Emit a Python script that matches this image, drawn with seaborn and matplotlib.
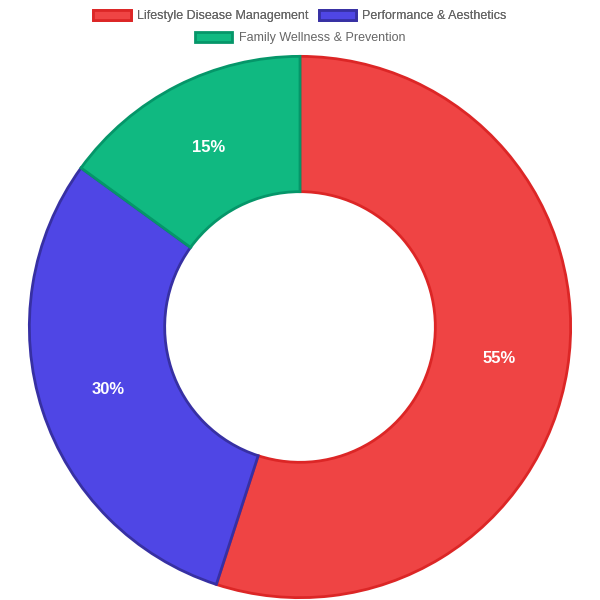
import matplotlib
matplotlib.use("Agg")
import matplotlib.pyplot as plt
from matplotlib.patches import Patch
import numpy as np
import seaborn as sns

categories = ["Lifestyle Disease Management", "Performance & Aesthetics", "Family Wellness & Prevention"]
values = [55, 30, 15]
fill_colors = ["#EF4444", "#4F46E5", "#10B981"]
edge_colors = ["#DC2626", "#3730A3", "#059669"]

sns.set_style("white")
plt.rcParams["font.family"] = "Liberation Sans"
fig = plt.figure(figsize=(6, 6), dpi=100)
ax = fig.add_axes([28 / 600, 1 / 600, 544 / 600, 544 / 600])

wedges, texts = ax.pie(values, colors=fill_colors, startangle=90, counterclock=False,
                       wedgeprops=dict(width=0.5, linewidth=2))
for w, ec in zip(wedges, edge_colors):
    w.set_edgecolor(ec)

ang = 90
for v in values:
    mid = np.deg2rad(ang - v * 3.6 / 2)
    ax.text(0.745 * np.cos(mid), 0.745 * np.sin(mid), f"{v}%", ha="center", va="center",
            color="white", fontsize=12, fontweight="bold")
    ang -= v * 3.6
ax.set_xlim(-1.005, 1.005)
ax.set_ylim(-1.005, 1.005)
ax.set_aspect("equal")
ax.axis("off")

handles = [Patch(facecolor=f, edgecolor=e, linewidth=2) for f, e in zip(fill_colors, edge_colors)]
kw = dict(frameon=False, fontsize=9, labelcolor="#666666", handlelength=3.0, handleheight=0.9,
          handletextpad=0.5, columnspacing=0.8, borderpad=0)
leg1 = fig.legend(handles[:2], categories[:2], loc="center", bbox_to_anchor=(0.5, 1 - 16 / 600), ncol=2, **kw)
fig.add_artist(leg1)
fig.legend(handles[2:], categories[2:], loc="center", bbox_to_anchor=(0.5, 1 - 38 / 600), ncol=1, **kw)

fig.savefig("out.png", dpi=100)
